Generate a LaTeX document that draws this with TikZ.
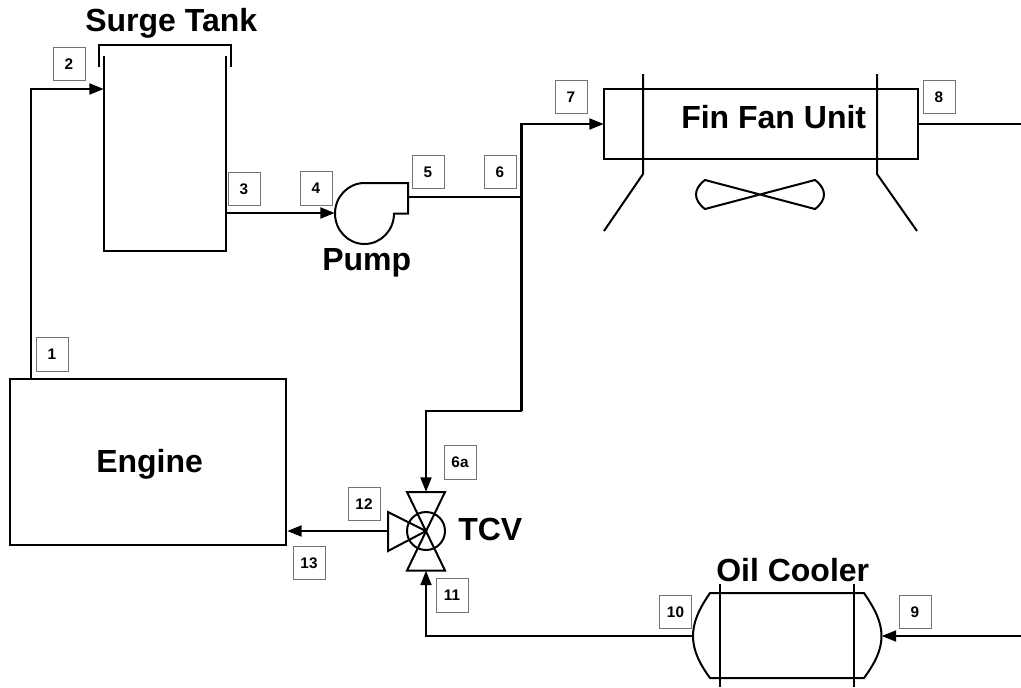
\documentclass[tikz,border=0pt]{standalone}
\usepackage{fontspec}
\setmainfont{Liberation Sans}
\usetikzlibrary{arrows.meta}
\tikzset{
  equip/.style={line width=1.5pt,line join=miter},
  pipe/.style={line width=2.2pt,line join=miter},
  flow/.style={pipe,-{Triangle[length=11pt,width=8pt]}},
  tag/.style={draw=black!55,line width=.6pt,fill=white,minimum width=24pt,minimum height=25pt,inner sep=0pt,font=\fontsize{11.5}{13}\selectfont\bfseries},
  title/.style={anchor=base west,inner sep=0pt,font=\fontsize{24}{28}\selectfont\bfseries},
  block/.style={draw,equip,inner sep=0pt,outer sep=0pt,anchor=north west}
}
\begin{document}
\begin{tikzpicture}[x=.75pt,y=-.75pt]
\useasboundingbox (0,0) rectangle (1021,687);
\fill[white] (0,0) rectangle (1021,687);
% named connection points
\coordinate (engOut) at (31,379);
\coordinate (c12) at (31,89);
\coordinate (tankIn) at (104,89);
\coordinate (tankOut) at (226,213);
\coordinate (pumpIn) at (335,213);
\coordinate (pumpOut) at (408,197);
\coordinate (tee) at (521.5,197);
\coordinate (c7) at (521.5,124);
\coordinate (finIn) at (604,124);
\coordinate (finOut) at (917,124);
\coordinate (rightTop) at (1021,124);
\coordinate (c6b) at (521.5,411);
\coordinate (c6c) at (426,411);
\coordinate (tcvTop) at (426,492);
\coordinate (tcvBot) at (426,570.5);
\coordinate (tcvC) at (426,531);
\coordinate (tcvLeft) at (388,531);
\coordinate (engIn) at (287,531);
\coordinate (c11) at (426,636);
\coordinate (coolL) at (693,636);
\coordinate (coolR) at (881.5,636);
\coordinate (rightBot) at (1021,636);
% engine
\node[block,minimum width=207pt,minimum height=124.5pt] (engine) at (10,379) {};
% surge tank
\draw[equip] (104,56) -- (104,251) -- (226,251) -- (226,56);
\draw[equip] (99,67) -- (99,45) -- (231,45) -- (231,67);
% pump
\draw[equip] (394,213.5) arc[start angle=0,end angle=270,x radius=29.5,y radius=30.5] -- (408,183) -- (408,213.5) -- cycle;
% fin fan unit
\node[block,minimum width=235.5pt,minimum height=52.5pt] (fin) at (603.5,89) {};
\draw[equip] (643,74) -- (643,174) -- (604,231);
\draw[equip] (877,74) -- (877,174) -- (917,231);
\draw[equip] (705,180) -- (815,209) .. controls (827,200) and (827,189) .. (815,180)
  -- (705,209) .. controls (693,200) and (693,189) .. (705,180) -- cycle;
% oil cooler
\draw[equip] (710,593) -- (864,593) .. controls (875,609) and (881.5,622) .. (881.5,636)
  .. controls (881.5,650) and (875,663) .. (864,678) -- (710,678)
  .. controls (699,663) and (693,650) .. (693,636) .. controls (693,622) and (699,609) .. (710,593) -- cycle;
\draw[equip] (720,584) -- (720,687);
\draw[equip] (854,584) -- (854,687);
% valve
\draw[equip] (tcvC) circle[radius=14.25pt];
\draw[equip] (407,492) -- (445,492) -- (407,570.5) -- (445,570.5) -- cycle;
\draw[equip] (tcvC) -- (388,512) -- (388,551) -- cycle;
% pipes
\draw[flow] (engOut) -- (c12) -- (tankIn);
\draw[flow] (tankOut) -- (pumpIn);
\draw[pipe] (pumpOut) -- (tee);
\draw[flow] (c6b) -- (c7) -- (finIn);
\draw[flow] (c6b) -- (c6c) -- (tcvTop);
\draw[pipe] (finOut) -- (rightTop);
\draw[flow] (coolL) -- (c11) -- (tcvBot);
\draw[flow] (tcvLeft) -- (engIn);
\draw[flow] (rightBot) -- (coolR);
% titles
\node[title] (tSurge) at (85,31) {Surge Tank};
\node[title] (tPump) at (322,270) {Pump};
\node[title] (tFin) at (681,128) {Fin Fan Unit};
\node[title] (tEngine) at (96,472) {Engine};
\node[title] (tTCV) at (458,540) {TCV};
\node[title] (tOil) at (716,581) {Oil Cooler};
% number tags
\node[tag] (n1) at (52,354.5) {1};
\node[tag] (n2) at (69,64) {2};
\node[tag] (n3) at (244,189) {3};
\node[tag] (n4) at (316,188.5) {4};
\node[tag] (n5) at (428,172) {5};
\node[tag] (n6) at (500,172) {6};
\node[tag] (n6a) at (460,462.5) {6a};
\node[tag] (n7) at (571,97) {7};
\node[tag] (n8) at (939,97) {8};
\node[tag] (n9) at (915,612) {9};
\node[tag] (n10) at (675.5,612) {10};
\node[tag] (n11) at (452,595.5) {11};
\node[tag] (n12) at (364,504) {12};
\node[tag] (n13) at (309,563) {13};
\end{tikzpicture}
\end{document}
